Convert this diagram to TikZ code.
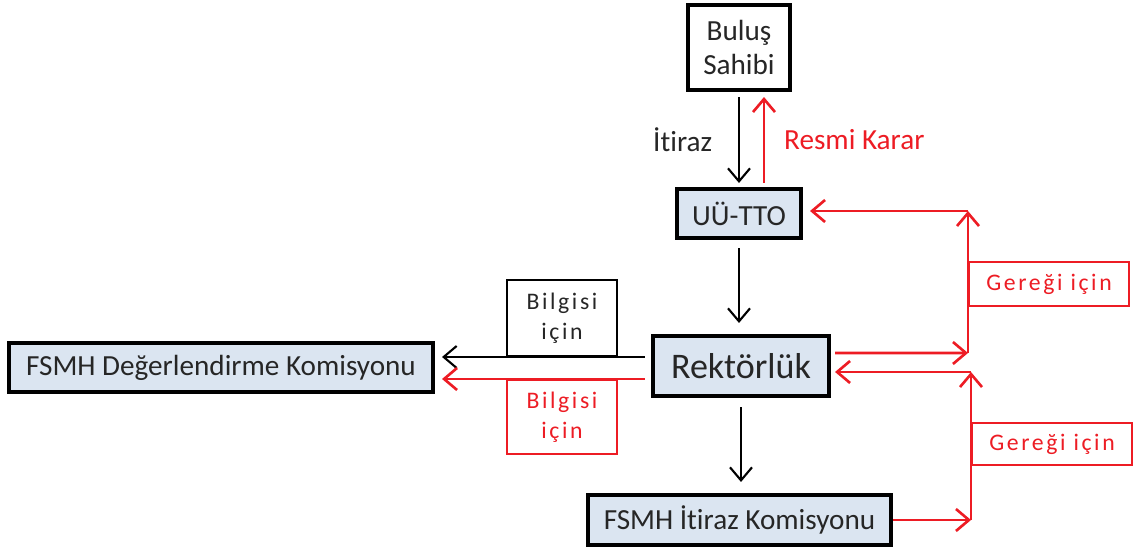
\documentclass[tikz,border=0pt]{standalone}
\usepackage{fontspec}
\setmainfont{Carlito}[Ligatures=NoCommon]
\newfontfamily\spacedfont[LetterSpace=11,Ligatures=NoCommon]{Carlito}
\usetikzlibrary{positioning, arrows.meta, calc}
\definecolor{myred}{RGB}{237,28,36}
\definecolor{myblue}{RGB}{219,229,241}
\definecolor{mygray}{RGB}{38,38,38}
\tikzset{
  thickbox/.style={draw, line width=2.3pt, fill=white, text=mygray, inner sep=2pt,
    align=center, font=\fontsize{16.6}{19.8}\selectfont},
  bluebox/.style={thickbox, fill=myblue},
  notebox/.style={draw, line width=1.2pt, fill=white, text=mygray, align=center,
    inner sep=2pt, font=\spacedfont\fontsize{13.5}{17}\selectfont},
  rednote/.style={notebox, draw=myred, text=myred},
  blackarrow/.style={-{Straight Barb[length=2.6mm,width=4.4mm]}, line width=1.2pt},
  redarrow/.style={blackarrow, draw=myred, line width=1.5pt},
  tag/.style={text=mygray, font=\fontsize{16.6}{19.8}\selectfont}
}

\begin{document}
\begin{tikzpicture}
\useasboundingbox (0,0) rectangle (22.68,-11.04);

% boxes
\node [thickbox, minimum width=2.04cm, minimum height=1.70cm] (sahip) at (14.78,-0.95) {Buluş\\Sahibi};
\node [bluebox, minimum width=2.48cm, minimum height=0.98cm] (tto) at (14.78,-4.27) {UÜ-TTO};
\node [bluebox, minimum width=3.52cm, minimum height=1.20cm,
  font=\fontsize{20.5}{24}\selectfont] (rektor) at (14.82,-7.32) {Rektörlük};
\node [bluebox, minimum width=8.48cm, minimum height=0.98cm] (degerlendirme) at (4.42,-7.35) {FSMH Değerlendirme Komisyonu};
\node [bluebox, minimum width=6.06cm, minimum height=1.00cm] (itirazkom) at (14.79,-10.40) {FSMH İtiraz Komisyonu};

% top
\draw [blackarrow, shorten <=0.1cm, shorten >=0.08cm] (sahip.south) -- (tto.north)
  node [tag, midway, left=4mm] {İtiraz};
\draw [redarrow, shorten <=0.08cm, shorten >=0.1cm] ([xshift=0.5cm]tto.north) -- ([xshift=0.5cm]sahip.south)
  node [tag, text=myred, midway, right=2.6mm] {Resmi Karar};

% middle column
\draw [blackarrow, shorten <=0.16cm, shorten >=0.22cm] (tto.south) -- (tto.south |- rektor.north);
\draw [blackarrow, shorten <=0.18cm, shorten >=0.22cm] (rektor.south) -- (rektor.south |- itirazkom.north);

% left side
\draw [blackarrow, shorten <=0.12cm, shorten >=0.14cm] ([yshift=0.18cm]rektor.west) -- ([yshift=0.18cm]rektor.west -| degerlendirme.east);
\draw [redarrow, shorten <=0.12cm, shorten >=0.14cm] ([yshift=-0.26cm]rektor.west) -- ([yshift=-0.26cm]rektor.west -| degerlendirme.east);
\node [notebox, minimum width=2.2cm, minimum height=1.52cm] (bilgi1) at (11.24,-6.36) {Bilgisi\\için};
\node [rednote, minimum width=2.2cm, minimum height=1.48cm] (bilgi2) at (11.24,-8.34) {Bilgisi\\için};

% right side
\coordinate (ga) at (19.36,-7.06);
\coordinate (gb) at (19.36,-4.22);
\coordinate (gc) at (19.42,-10.40);
\coordinate (gd) at (19.42,-7.44);
\draw [redarrow, shorten <=0.08cm] ([yshift=0.26cm]rektor.east) -- (ga);
\draw [redarrow] (ga) -- (gb);
\draw [redarrow, shorten >=0.14cm] (gb) -- (gb -| tto.east);
\node [rednote, anchor=west, minimum width=3.2cm, minimum height=0.88cm] (gerek1) at (19.36,-5.68) {Gereği için};

\draw [redarrow] (itirazkom.east) -- (gc);
\draw [redarrow] (gc) -- (gd);
\draw [redarrow, shorten >=0.08cm] (gd) -- (gd -| rektor.east);
\node [rednote, anchor=west, minimum width=3.2cm, minimum height=0.84cm] (gerek2) at (19.42,-8.88) {Gereği için};
\end{tikzpicture}
\end{document}
